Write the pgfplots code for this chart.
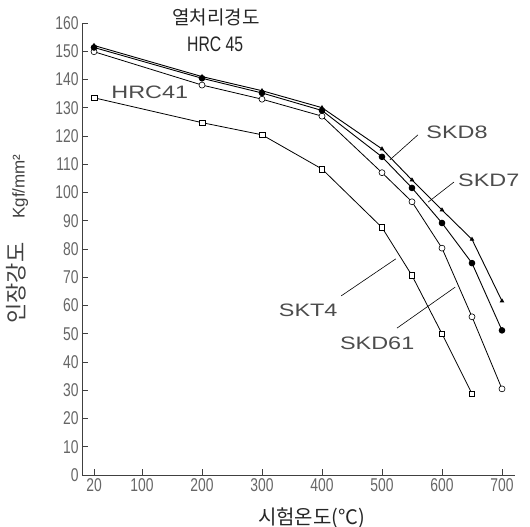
\documentclass[border=0pt]{standalone}
\usepackage{fontspec}
\setmainfont{Liberation Sans}
\newfontfamily\kr{Noto Sans CJK KR}
\newfontfamily\narrowf[FakeStretch=0.75]{Liberation Sans}
\newfontfamily\widef[FakeStretch=1.3]{Liberation Sans}
\usepackage{pgfplots}
\pgfplotsset{compat=1.18}
\begin{document}
\begin{tikzpicture}
\begin{axis}[
 scale only axis, width=433pt, height=452pt,
 xmin=0, xmax=722, ymin=0, ymax=160,
 axis x line*=bottom, axis y line*=left,
 axis line style={-, black!75, line width=0.7pt},
 xtick={20,100,200,300,400,500,600,700},
 ytick={0,10,...,160},
 tick style={black!75, line width=0.7pt},
 major tick length=6pt,
 tick align=inside,
 ticklabel style={font=\narrowf\fontsize{18.5}{18.5}\selectfont, text=black!60},
 /pgf/number format/assume math mode=true,
 clip=false,
]
% SKT4
\addplot[black, line width=0.8pt, mark=square*, mark size=2.8pt, mark options={fill=white, line width=0.6pt}]
 coordinates {(20,133.5) (200,124.7) (300,120.4) (400,108.3) (500,87.6) (550,70.6) (600,50) (650,28.8)};
% SKD61
\addplot[black, line width=0.8pt, mark=*, mark size=3pt, mark options={fill=white, line width=0.6pt}]
 coordinates {(20,149.8) (200,138) (300,133) (400,127) (500,107) (550,96.7) (600,80.3) (650,56) (700,30.5)};
% SKD8
\addplot[black, line width=0.9pt, mark=triangle*, mark size=1.8pt]
 coordinates {(20,152) (200,141) (300,136) (400,130) (500,115.4) (550,104.4) (600,93.8) (650,83.4) (700,61.6)};
% SKD7
\addplot[black, line width=0.9pt, mark=*, mark size=2.8pt]
 coordinates {(20,151.3) (200,140.4) (300,135.2) (400,129) (500,112.6) (550,101.6) (600,89.2) (650,75) (700,51.2)};
% annotations
\node[font=\kr\fontsize{19}{19}\selectfont, text=black!85] at (axis cs:223,162) {열처리경도};
\node[font=\narrowf\fontsize{21}{21}\selectfont, text=black!85] at (axis cs:222,152.5) {HRC 45};
\node[font=\widef\fontsize{18}{18}\selectfont, text=black!70] at (axis cs:113,135.6) {HRC41};
\node[font=\widef\fontsize{18}{18}\selectfont, text=black!70] at (axis cs:625,121.4) {SKD8};
\node[font=\widef\fontsize{18}{18}\selectfont, text=black!70] at (axis cs:678,104.4) {SKD7};
\node[font=\widef\fontsize{18}{18}\selectfont, text=black!70] at (axis cs:377,58.4) {SKT4};
\node[font=\widef\fontsize{18}{18}\selectfont, text=black!70] at (axis cs:492,46.7) {SKD61};
\draw[black, line width=0.6pt] (axis cs:560,120.4) -- (axis cs:513,111.5);
\draw[black, line width=0.6pt] (axis cs:620,103.7) -- (axis cs:577,96.6);
\draw[black, line width=0.6pt] (axis cs:432,63.4) -- (axis cs:523,76.5);
\draw[black, line width=0.6pt] (axis cs:525,52) -- (axis cs:622,66.5);
\node[font=\kr\fontsize{20}{20}\selectfont, text=black!85] at (axis cs:383,-15.2) {시험온도(°C)};
\node[rotate=90, text=black!75] at (axis cs:-108,83.5) {{\kr\fontsize{22}{22}\selectfont 인장강도}\hspace{24pt}{\fontsize{17}{17}\selectfont Kgf/mm²}};
\coordinate (BL) at (axis cs:-136.7,-18.05);
\coordinate (TR) at (axis cs:746.7,168.1);
\end{axis}
\pgfresetboundingbox
\useasboundingbox (BL) rectangle (TR);
\end{tikzpicture}
\end{document}
